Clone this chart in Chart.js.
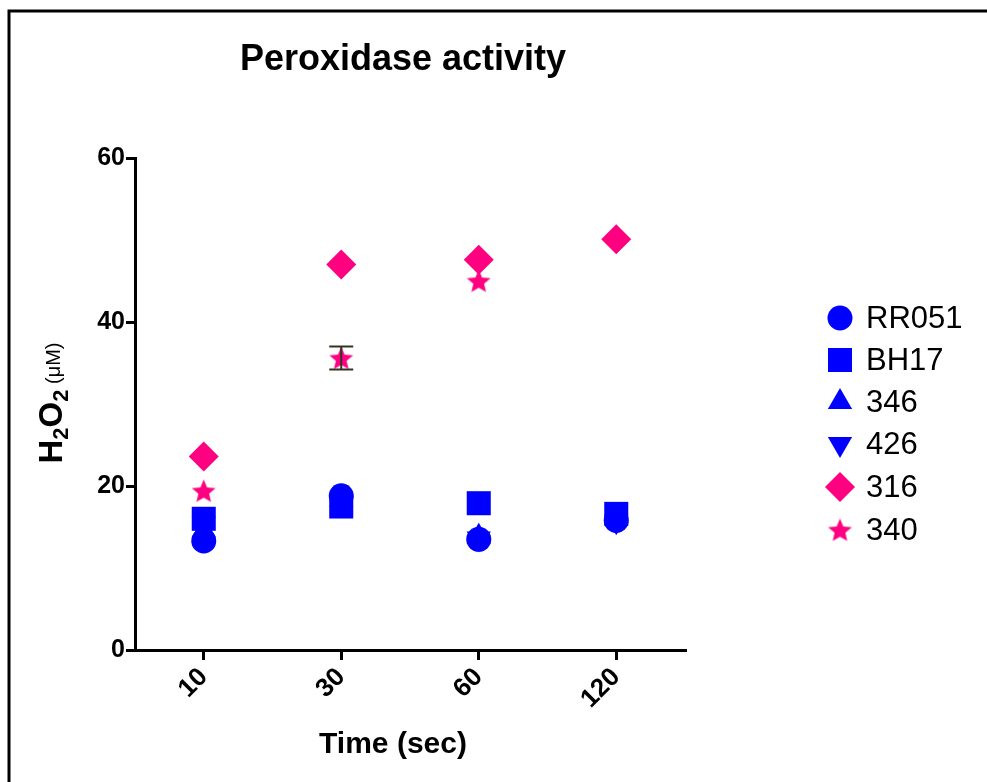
<!DOCTYPE html>
<html><head><meta charset="utf-8">
<script src="https://cdn.jsdelivr.net/npm/chart.js@4"></script>
<style>html,body{margin:0;padding:0;background:#fff;} canvas{display:block;}</style>
</head><body>
<canvas id="c" width="987" height="782"></canvas>
<script>
const categories = ['10', '30', '60', '120'];
const seriesNames = ['RR051', 'BH17', '346', '426', '316', '340'];
const rr051 = [13.3, 18.8, 13.5, 15.8];
const bh17 = [16.0, 17.5, 17.9, 16.6];
const s346 = [14.6, 18.3, 13.8, 16.2];
const s426 = [15.4, 17.9, 13.6, 15.7];
const s316 = [23.6, 47.0, 47.6, 50.1];
const s340 = [19.4, 35.6, 45.0, null];
const s340err = [0, 1.4, 0, 0];
const yTicks = [0, 20, 40, 60];
const titleText = 'Peroxidase activity';
const xTitle = 'Time (sec)';

const BLUE = '#0000ff';
const PINK = '#ff0080';
const FONT = "'Liberation Sans', Arial, sans-serif";

function makeStar(size, color) {
  const c = document.createElement('canvas');
  c.width = size; c.height = size;
  const g = c.getContext('2d');
  const cx = size / 2, cy = size / 2 + 1, R = size / 2, r = R * 0.45;
  g.beginPath();
  for (let i = 0; i < 10; i++) {
    const a = -Math.PI / 2 + i * Math.PI / 5;
    const rad = i % 2 ? r : R;
    g.lineTo(cx + rad * Math.cos(a), cy + rad * Math.sin(a));
  }
  g.closePath();
  g.fillStyle = color;
  g.fill();
  return c;
}
const starImg = makeStar(25, PINK);

const styles = [
  { pointStyle: 'circle', radius: 12.5, rotation: 0, color: BLUE },
  { pointStyle: 'rect', radius: 17, rotation: 0, color: BLUE },
  { pointStyle: 'triangle', radius: 14, rotation: 0, color: BLUE },
  { pointStyle: 'triangle', radius: 14, rotation: 180, color: BLUE },
  { pointStyle: 'rectRot', radius: 15, rotation: 0, color: PINK },
  { pointStyle: starImg, radius: 12, rotation: 0, color: PINK }
];
const values = [rr051, bh17, s346, s426, s316, s340];

const datasets = seriesNames.map((name, i) => ({
  label: name,
  data: values[i],
  showLine: false,
  pointStyle: styles[i].pointStyle,
  pointRadius: styles[i].radius,
  pointHoverRadius: styles[i].radius,
  pointRotation: styles[i].rotation,
  backgroundColor: styles[i].color,
  borderColor: styles[i].color,
  pointBorderWidth: 0
}));

const decor = {
  id: 'decor',
  afterDatasetsDraw(chart) {
    const ctx = chart.ctx;
    const x = chart.scales.x, y = chart.scales.y;
    ctx.save();
    ctx.strokeStyle = '#333322';
    ctx.lineWidth = 2;
    s340err.forEach((e, i) => {
      if (!e || s340[i] == null) return;
      const px = x.getPixelForValue(i);
      const top = y.getPixelForValue(s340[i] + e);
      const bot = y.getPixelForValue(s340[i] - e);
      ctx.beginPath();
      ctx.moveTo(px, top); ctx.lineTo(px, bot);
      ctx.moveTo(px - 12, top); ctx.lineTo(px + 12, top);
      ctx.moveTo(px - 12, bot); ctx.lineTo(px + 12, bot);
      ctx.stroke();
    });
    ctx.restore();
  },
  afterDraw(chart) {
    const ctx = chart.ctx;
    ctx.save();
    ctx.strokeStyle = '#000';
    ctx.lineWidth = 3;
    ctx.beginPath();
    ctx.moveTo(9, 782); ctx.lineTo(9, 11); ctx.lineTo(987, 11);
    ctx.stroke();
    ctx.fillStyle = '#000';
    ctx.textAlign = 'center';
    ctx.textBaseline = 'middle';
    ctx.font = 'bold 36px ' + FONT;
    ctx.fillText(titleText, 403, 60);
    ctx.font = 'bold 30px ' + FONT;
    ctx.fillText(xTitle, 393, 745);
    ctx.save();
    ctx.translate(53, 403);
    ctx.rotate(-Math.PI / 2);
    const parts = [
      ['H', 'bold 33px ' + FONT, 0],
      ['2', 'bold 22px ' + FONT, 9],
      ['O', 'bold 33px ' + FONT, 0],
      ['2', 'bold 22px ' + FONT, 9],
      [' (\u03bcM)', '20px ' + FONT, 1]
    ];
    let total = 0;
    parts.forEach(p => { ctx.font = p[1]; total += ctx.measureText(p[0]).width; });
    let cx = -total / 2;
    ctx.textAlign = 'left';
    ctx.textBaseline = 'middle';
    parts.forEach(p => {
      ctx.font = p[1];
      ctx.fillText(p[0], cx, p[2]);
      cx += ctx.measureText(p[0]).width;
    });
    ctx.restore();
    const rows = [318, 360, 402, 444, 487, 530];
    ctx.textAlign = 'left';
    ctx.textBaseline = 'middle';
    ctx.font = '31px ' + FONT;
    seriesNames.forEach((name, i) => {
      const st = styles[i];
      ctx.fillStyle = st.color;
      ctx.strokeStyle = st.color;
      Chart.helpers.drawPoint(ctx, { pointStyle: st.pointStyle, radius: st.radius, rotation: st.rotation, borderWidth: 0 }, 840, rows[i]);
      ctx.fillStyle = '#000';
      ctx.fillText(name, 866, rows[i] + 1);
    });
    ctx.restore();
  }
};

new Chart(document.getElementById('c'), {
  type: 'line',
  data: { labels: categories, datasets },
  options: {
    responsive: false,
    animation: false,
    layout: { padding: { left: 0, top: 158, right: 302, bottom: 0 } },
    plugins: { legend: { display: false }, title: { display: false }, tooltip: { enabled: false } },
    scales: {
      x: {
        type: 'category',
        offset: true,
        afterFit(s) { s.height = 132; },
        grid: { display: true, offset: false, drawOnChartArea: false, drawTicks: true, tickLength: 10, color: '#000', lineWidth: 3 },
        border: { display: true, color: '#000', width: 3 },
        ticks: { color: '#000', font: { family: FONT, size: 26, weight: 'bold' }, minRotation: 45, maxRotation: 45, padding: 2 }
      },
      y: {
        min: 0, max: 60,
        afterFit(s) { s.width = 135; },
        afterBuildTicks(s) { s.ticks = yTicks.map(v => ({ value: v })); },
        grid: { display: true, drawOnChartArea: false, drawTicks: true, tickLength: 9, color: '#000', lineWidth: 3 },
        border: { display: true, color: '#000', width: 3 },
        ticks: { color: '#000', font: { family: FONT, size: 25, weight: 'bold' }, padding: 1 }
      }
    }
  },
  plugins: [decor]
});
</script>
</body></html>
